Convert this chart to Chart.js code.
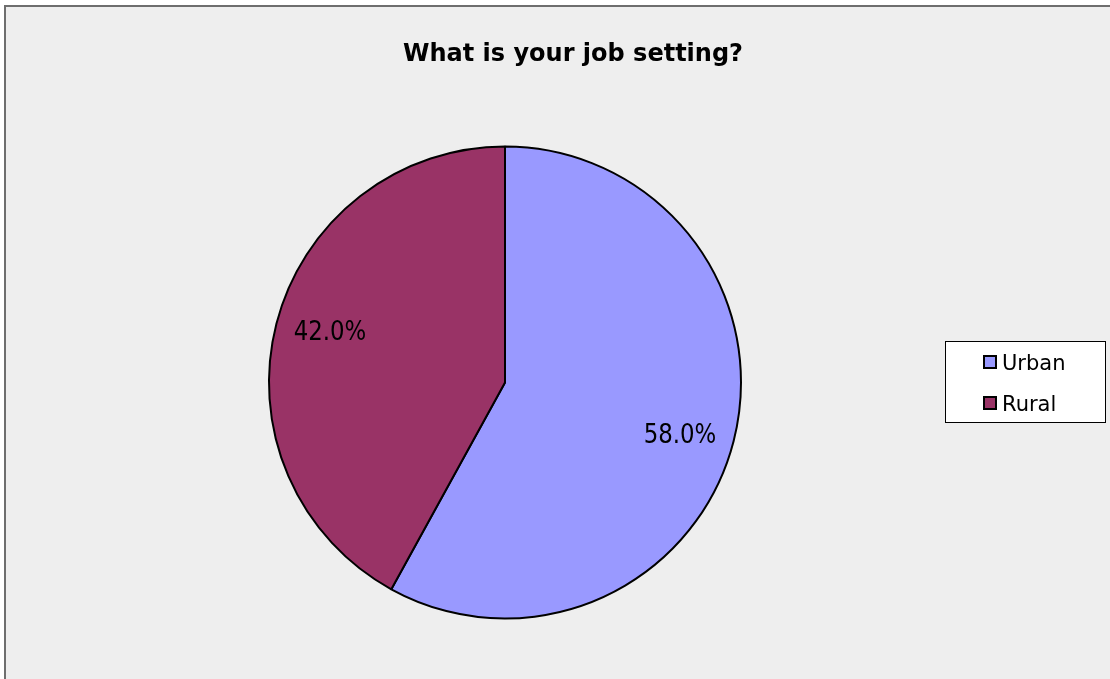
<!DOCTYPE html>
<html>
<head>
<meta charset="utf-8">
<script src="https://cdn.jsdelivr.net/npm/chart.js@4.4.1/dist/chart.umd.min.js"></script>
<style>
html,body{margin:0;padding:0;background:#ffffff;overflow:hidden;}
#wrap{position:relative;width:1110px;height:679px;}
</style>
</head>
<body>
<div id="wrap"><canvas id="c" width="1110" height="679"></canvas></div>
<script>
const titleText = "What is your job setting?";
const categories = ["Urban", "Rural"];
const values = [58.0, 42.0];
const colors = ["#9999FF", "#993366"];

const frame = {
  id: 'frame',
  beforeDraw(chart) {
    const ctx = chart.ctx;
    ctx.save();
    ctx.fillStyle = '#ffffff';
    ctx.fillRect(0, 0, chart.width, chart.height);
    ctx.fillStyle = '#eeeeee';
    ctx.fillRect(5, 6, chart.width, chart.height);
    ctx.strokeStyle = '#6e6e6e';
    ctx.lineWidth = 2;
    ctx.beginPath();
    ctx.moveTo(5, chart.height + 5);
    ctx.lineTo(5, 6);
    ctx.lineTo(chart.width + 5, 6);
    ctx.stroke();
    ctx.fillStyle = '#000000';
    ctx.font = 'bold 24px "DejaVu Sans", Verdana, sans-serif';
    ctx.textAlign = 'center';
    ctx.textBaseline = 'alphabetic';
    ctx.fillText(titleText, 573, 61);
    ctx.restore();
  },
  afterDraw(chart) {
    const ctx = chart.ctx;
    const meta = chart.getDatasetMeta(0);
    ctx.save();
    ctx.fillStyle = '#000000';
    ctx.textAlign = 'center';
    ctx.textBaseline = 'middle';
    ctx.font = '26px "DejaVu Sans", Tahoma, sans-serif';
    meta.data.forEach((arc, i) => {
      const p = arc.getProps(['x','y','startAngle','endAngle','outerRadius'], true);
      const mid = (p.startAngle + p.endAngle) / 2 + 2 * Math.PI / 180;
      const r = p.outerRadius * 0.773;
      const v = chart.data.datasets[0].data[i];
      const tx = p.x + Math.cos(mid) * r;
      const ty = p.y + Math.sin(mid) * r + 1;
      ctx.save();
      ctx.translate(tx, ty);
      ctx.scale(0.88, 1.0);
      ctx.fillText(v.toFixed(1) + '%', 0, 1);
      ctx.restore();
    });
    // legend
    const lx = 945, ly = 341, lw = 160, lh = 81;
    ctx.fillStyle = '#ffffff';
    ctx.fillRect(lx, ly, lw, lh);
    ctx.strokeStyle = '#000000';
    ctx.lineWidth = 1;
    ctx.strokeRect(lx + 0.5, ly + 0.5, lw, lh);
    ctx.textAlign = 'left';
    ctx.textBaseline = 'alphabetic';
    ctx.font = '21px "DejaVu Sans", Tahoma, sans-serif';
    chart.data.labels.forEach((lab, i) => {
      const cy = 362 + i * 41;
      ctx.fillStyle = chart.data.datasets[0].backgroundColor[i];
      ctx.fillRect(984, cy - 6, 12, 12);
      ctx.strokeStyle = '#000000';
      ctx.lineWidth = 2;
      ctx.strokeRect(984, cy - 6, 12, 12);
      ctx.fillStyle = '#000000';
      ctx.fillText(lab, 1002, cy + 8);
    });
    ctx.restore();
  }
};

new Chart(document.getElementById('c'), {
  type: 'pie',
  data: {
    labels: categories,
    datasets: [{
      data: values,
      backgroundColor: colors,
      borderColor: '#000000',
      borderWidth: 2,
      borderAlign: 'center'
    }]
  },
  options: {
    responsive: false,
    animation: false,
    devicePixelRatio: 1,
    layout: { padding: { left: 268, right: 368, top: 145, bottom: 59 } },
    plugins: {
      legend: { display: false },
      title: { display: false },
      tooltip: { enabled: false }
    }
  },
  plugins: [frame]
});
</script>
</body>
</html>
